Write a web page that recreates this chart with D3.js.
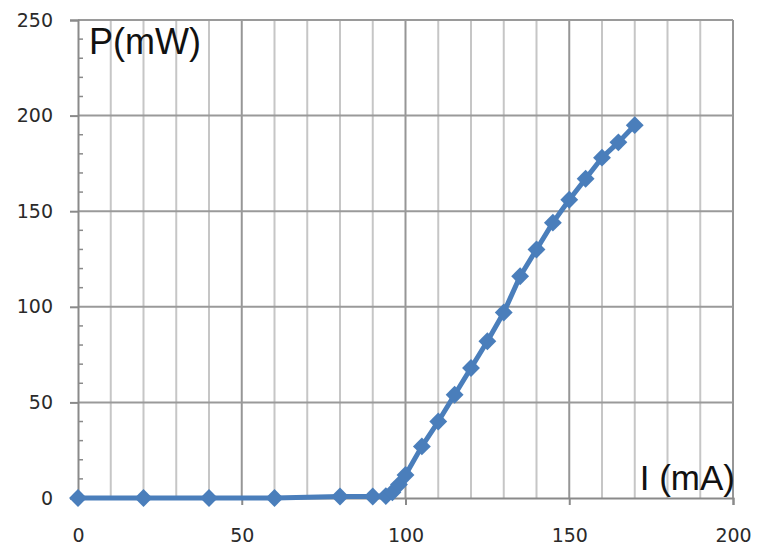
<!DOCTYPE html>
<html>
<head>
<meta charset="utf-8">
<script src="https://cdn.jsdelivr.net/npm/d3@7"></script>
<style>
  body { margin: 0; background: #fff; }
  svg { display: block; }
</style>
</head>
<body>
<div id="graph"></div>
<script>
// current (mA) and optical power (mW)
var currents = [0, 20, 40, 60, 80, 90, 94, 96, 98, 100, 105, 110, 115, 120, 125, 130, 135, 140, 145, 150, 155, 160, 165, 170]
var powers   = [0, 0, 0, 0, 0.8, 0.8, 1, 3, 7, 12, 27, 40, 54, 68, 82, 97, 116, 130, 144, 156, 167, 178, 186, 195]
var xTicks = [0, 50, 100, 150, 200]
var yTicks = [0, 50, 100, 150, 200, 250]

var width = 757, height = 548
var margin = {top: 20, left: 78, bottom: 50, right: 24}
var chartWidth = width - margin.left - margin.right
var chartHeight = height - margin.top - margin.bottom

var svg = d3.select("#graph").append("svg")
            .attr("width", width).attr("height", height)
var chartLayer = svg.append("g")
                    .attr("transform", "translate(" + [margin.left, margin.top] + ")")

var x = d3.scaleLinear().domain([0, 200]).range([0, chartWidth])
var y = d3.scaleLinear().domain([0, 250]).range([chartHeight, 0])

// vertical grid every 10 mA, darker on the major ones
chartLayer.selectAll(".vgrid")
          .data(d3.range(10, 201, 10))
          .enter().append("line")
          .attr("x1", d => x(d)).attr("x2", d => x(d))
          .attr("y1", 0).attr("y2", chartHeight)
          .attr("stroke", d => d % 50 === 0 ? "#969696" : "#c6c6c6")
          .attr("stroke-width", 2)

// horizontal grid on the major y ticks
chartLayer.selectAll(".hgrid")
          .data(yTicks.slice(1))
          .enter().append("line")
          .attr("x1", 0).attr("x2", chartWidth)
          .attr("y1", d => y(d)).attr("y2", d => y(d))
          .attr("stroke", "#9a9a9a")
          .attr("stroke-width", 2)

// y minor ticks inside
chartLayer.selectAll(".yminor")
          .data(d3.range(10, 250, 10).filter(d => d % 50 !== 0))
          .enter().append("line")
          .attr("x1", 0).attr("x2", 5)
          .attr("y1", d => y(d)).attr("y2", d => y(d))
          .attr("stroke", "#8a8a8a").attr("stroke-width", 1.5)

// axes
var xAxis = d3.axisBottom(x).tickValues(xTicks).tickSize(7).tickPadding(24)
var yAxis = d3.axisLeft(y).tickValues(yTicks).tickSize(8).tickPadding(17)

var gx = chartLayer.append("g").attr("transform", "translate(0," + chartHeight + ")").call(xAxis)
var gy = chartLayer.append("g").call(yAxis)

;[gx, gy].forEach(function(g){
    g.select(".domain").attr("stroke", "#8a8a8a").attr("stroke-width", 2)
    g.selectAll(".tick line").attr("stroke", "#8a8a8a").attr("stroke-width", 2)
    g.selectAll("text")
     .attr("font-family", "DejaVu Sans, Verdana, sans-serif")
     .attr("font-size", "19px")
     .attr("fill", "#2a2a2a")
})
gx.selectAll(".tick").filter(d => d === 0).select("line").remove()

// data line + diamond markers
var line = d3.line()
             .x((d, i) => x(currents[i]))
             .y(d => y(d))

chartLayer.append("path")
          .datum(powers)
          .attr("d", line)
          .attr("fill", "none")
          .attr("stroke", "#4a7ebb")
          .attr("stroke-width", 5)
          .attr("stroke-linejoin", "round")

chartLayer.selectAll(".pt")
          .data(powers)
          .enter().append("path")
          .attr("d", d3.symbol().type(d3.symbolSquare).size(160))
          .attr("transform", (d, i) => "translate(" + [x(currents[i]), y(d)] + ") rotate(45)")
          .attr("fill", "#4a7ebb")

// axis titles inside the plot
chartLayer.append("text")
          .attr("x", 11).attr("y", 34)
          .attr("font-family", "Liberation Sans, Arial, sans-serif")
          .attr("font-size", "36px")
          .attr("fill", "#111")
          .text("P(mW)")

chartLayer.append("text")
          .attr("x", chartWidth + 2).attr("y", chartHeight - 8)
          .attr("text-anchor", "end")
          .attr("font-family", "Liberation Sans, Arial, sans-serif")
          .attr("font-size", "35px")
          .attr("fill", "#111")
          .text("I (mA)")
</script>
</body>
</html>
